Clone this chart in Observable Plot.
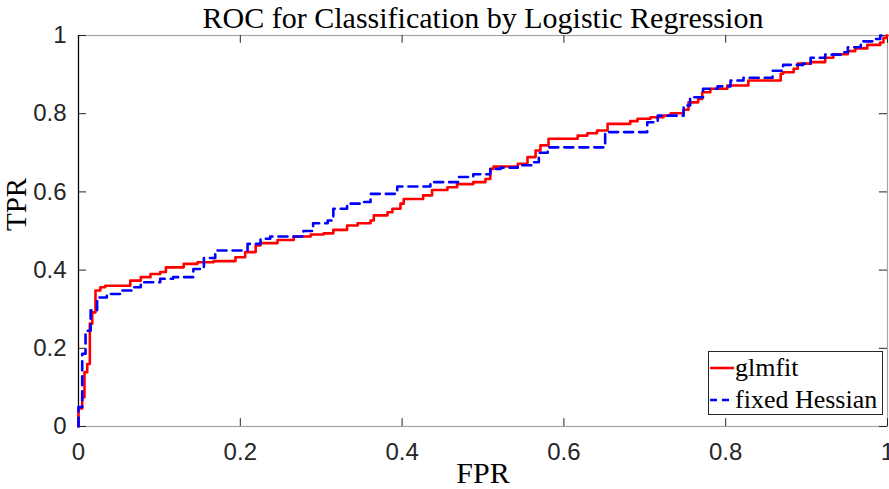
<!DOCTYPE html>
<html>
<head>
<meta charset="utf-8">
<script src="https://cdn.jsdelivr.net/npm/d3@7"></script>
<script src="https://cdn.jsdelivr.net/npm/@observablehq/plot@0.6"></script>
<style>
  html, body { margin: 0; padding: 0; background: #fff; }
  #wrap { position: relative; width: 889px; height: 489px; }
  #legend {
    position: absolute; left: 708px; top: 351px; width: 173px; height: 62px;
    border: 1px solid #262626; background: #fff;
    font-family: "Liberation Serif", "DejaVu Serif", serif; font-size: 26px; color: #000;
  }
  #legend .row { position: absolute; left: 0; height: 30px; display: flex; align-items: center; white-space: nowrap; }
  #legend svg { display: block; }
</style>
</head>
<body>
<div id="wrap"></div>
<script>
const title = "ROC for Classification by Logistic Regression";
const xLabel = "FPR";
const yLabel = "TPR";
const seriesNames = ["glmfit", "fixed Hessian"];
const seriesColors = ["#ff0000", "#0000ff"];
const xTicks = [0, 0.2, 0.4, 0.6, 0.8, 1];
const yTicks = [0, 0.2, 0.4, 0.6, 0.8, 1];

// glmfit ROC (FPR, TPR) — step points
const glmfitFPR = [0, 0, 0.0046, 0.0074, 0.0108, 0.014, 0.017, 0.021, 0.027, 0.033, 0.064, 0.077, 0.089, 0.101, 0.108, 0.130, 0.147, 0.167, 0.194, 0.206, 0.219, 0.225, 0.246, 0.266, 0.287, 0.303, 0.315, 0.332, 0.345, 0.361, 0.365, 0.382, 0.388, 0.398, 0.402, 0.426, 0.437, 0.456, 0.468, 0.488, 0.503, 0.509, 0.513, 0.543, 0.555, 0.565, 0.571, 0.581, 0.617, 0.629, 0.641, 0.654, 0.682, 0.691, 0.707, 0.723, 0.732, 0.748, 0.754, 0.766, 0.771, 0.781, 0.802, 0.828, 0.868, 0.871, 0.884, 0.889, 0.905, 0.923, 0.933, 0.951, 0.960, 0.975, 0.991, 0.995, 0.999, 1];
const glmfitTPR = [0, 0.046, 0.075, 0.139, 0.16, 0.263, 0.292, 0.348, 0.356, 0.36, 0.373, 0.382, 0.39, 0.395, 0.407, 0.416, 0.42, 0.423, 0.433, 0.446, 0.463, 0.469, 0.477, 0.486, 0.491, 0.494, 0.503, 0.514, 0.52, 0.527, 0.54, 0.548, 0.557, 0.57, 0.582, 0.591, 0.605, 0.612, 0.62, 0.625, 0.633, 0.659, 0.665, 0.672, 0.689, 0.706, 0.719, 0.736, 0.744, 0.75, 0.757, 0.774, 0.781, 0.787, 0.791, 0.795, 0.801, 0.81, 0.829, 0.838, 0.855, 0.864, 0.872, 0.885, 0.902, 0.906, 0.915, 0.928, 0.932, 0.943, 0.952, 0.96, 0.967, 0.976, 0.982, 0.994, 1, 1];

// fixed Hessian ROC (FPR, TPR) — step points
const hessFPR = [0, 0, 0.0046, 0.0087, 0.015, 0.023, 0.035, 0.052, 0.068, 0.077, 0.101, 0.117, 0.142, 0.155, 0.169, 0.209, 0.225, 0.237, 0.278, 0.290, 0.308, 0.315, 0.332, 0.351, 0.361, 0.394, 0.435, 0.470, 0.488, 0.509, 0.522, 0.543, 0.562, 0.569, 0.580, 0.651, 0.703, 0.716, 0.748, 0.756, 0.772, 0.790, 0.806, 0.822, 0.858, 0.871, 0.896, 0.905, 0.923, 0.942, 0.951, 0.967, 0.985, 0.991, 1];
const hessTPR = [0, 0.05, 0.186, 0.245, 0.297, 0.33, 0.339, 0.348, 0.356, 0.369, 0.378, 0.382, 0.403, 0.431, 0.45, 0.467, 0.48, 0.486, 0.5, 0.52, 0.527, 0.557, 0.57, 0.574, 0.595, 0.614, 0.625, 0.638, 0.645, 0.659, 0.662, 0.668, 0.676, 0.70, 0.714, 0.753, 0.778, 0.795, 0.821, 0.842, 0.864, 0.87, 0.885, 0.892, 0.91, 0.925, 0.928, 0.943, 0.951, 0.957, 0.97, 0.985, 0.991, 1, 1];

const glmfit = glmfitFPR.map((x, i) => ({x, y: glmfitTPR[i]}));
const hess = hessFPR.map((x, i) => ({x, y: hessTPR[i]}));

const sans = "'Liberation Sans', Arial, sans-serif";
const serif = "'Liberation Serif', 'DejaVu Serif', serif";
const axisColor = "#262626";

const chart = Plot.plot({
  width: 889,
  height: 489,
  marginLeft: 78,
  marginRight: 2,
  marginTop: 35,
  marginBottom: 63,
  style: {fontFamily: sans, background: "#fff", overflow: "visible"},
  x: {domain: [0, 1]},
  y: {domain: [0, 1]},
  marks: [
    Plot.frame({stroke: "#a6a6a6", strokeWidth: 1.2}),
    // inward ticks (bottom/top/left/right)
    Plot.ruleX(xTicks, {x: d => d, y1: 0, y2: 0.02, stroke: axisColor, strokeWidth: 1}),
    Plot.ruleX(xTicks, {x: d => d, y1: 1, y2: 0.98, stroke: axisColor, strokeWidth: 1}),
    Plot.ruleY(yTicks, {y: d => d, x1: 0, x2: 0.01, stroke: axisColor, strokeWidth: 1}),
    Plot.ruleY(yTicks, {y: d => d, x1: 1, x2: 0.99, stroke: axisColor, strokeWidth: 1}),
    Plot.ruleX([0], {stroke: "#000", strokeWidth: 1.2}),
    Plot.axisX({ticks: xTicks, tickSize: 0, tickPadding: 16, fontSize: 24, fill: axisColor, tickFormat: d => String(d), label: null}),
    Plot.axisY({ticks: yTicks, tickSize: 0, tickPadding: 12, fontSize: 24, fill: axisColor, tickFormat: d => String(d), label: null}),
    Plot.line(glmfit, {x: "x", y: "y", curve: "step-after", stroke: seriesColors[0], strokeWidth: 2.6}),
    Plot.line(hess, {x: "x", y: "y", curve: "step-after", stroke: seriesColors[1], strokeWidth: 2.6, strokeDasharray: "9,6"}),
    Plot.text([title], {frameAnchor: "top", dy: -29, fontSize: 30, fontFamily: serif, fill: "#000"}),
    Plot.text([xLabel], {frameAnchor: "bottom", dy: 56, fontSize: 30, fontFamily: serif, fill: "#000"}),
    Plot.text([yLabel], {frameAnchor: "left", dx: -62, rotate: -90, fontSize: 29, fontFamily: serif, fill: "#000"})
  ]
});

const wrap = document.getElementById("wrap");
wrap.appendChild(chart);

const legend = document.createElement("div");
legend.id = "legend";
seriesNames.forEach((name, i) => {
  const row = document.createElement("div");
  row.className = "row";
  row.style.top = (i === 0 ? 1 : 33) + "px";
  const dash = i === 1 ? 'stroke-dasharray="7,5"' : "";
  row.innerHTML = `<svg width="26" height="10"><line x1="1" y1="5" x2="25" y2="5" stroke="${seriesColors[i]}" stroke-width="2.6" ${dash}/></svg><span>${name}</span>`;
  legend.appendChild(row);
});
wrap.appendChild(legend);
</script>
</body>
</html>
